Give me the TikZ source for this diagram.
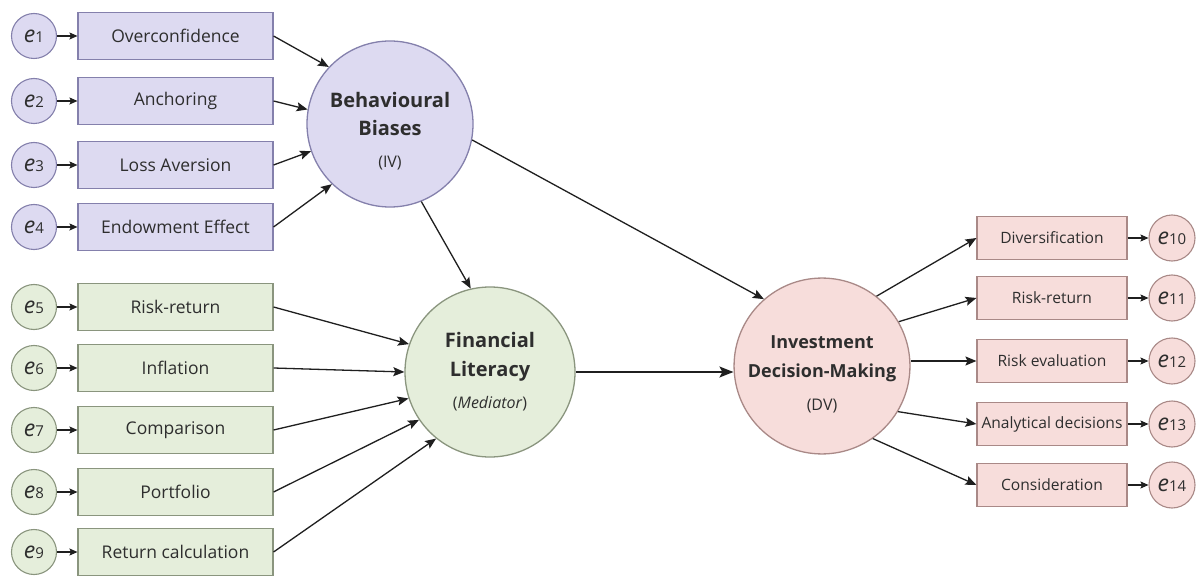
\documentclass[tikz,border=0pt]{standalone}
\usepackage{fontspec}
\setmainfont{Open Sans}
\usetikzlibrary{arrows.meta}
\definecolor{pfill}{HTML}{DDDAF1}
\definecolor{pdraw}{HTML}{8480AC}
\definecolor{gfill}{HTML}{E5EEDB}
\definecolor{gdraw}{HTML}{8A957E}
\definecolor{rfill}{HTML}{F7DDDB}
\definecolor{rdraw}{HTML}{A98987}
\definecolor{txt}{HTML}{2E2E2E}
\definecolor{ln}{HTML}{1F1F1F}
\newcommand\errlab[1]{{\fontsize{23}{23}\selectfont\itshape e}{\fontsize{15}{15}\selectfont #1}}
\begin{document}
\begin{tikzpicture}[x=1pt,y=-1pt,
  lbox/.style={draw, line width=1.1pt, minimum width=195pt, minimum height=47pt, inner sep=0pt, font=\fontsize{17.5}{19}\selectfont, text=txt},
  rbox/.style={draw, line width=1.1pt, minimum width=150pt, minimum height=43pt, inner sep=0pt, font=\fontsize{15.6}{17}\selectfont, text=txt},
  errc/.style={draw, circle, line width=1.1pt, minimum size=45pt, inner sep=0pt, text=txt},
  latent/.style={draw, circle, line width=1.3pt, inner sep=0pt, align=center, text=txt},
  pur/.style={fill=pfill, draw=pdraw},
  grn/.style={fill=gfill, draw=gdraw},
  red/.style={fill=rfill, draw=rdraw},
  conn/.style={draw=ln, line width=1.3pt, -{Stealth[length=11pt,width=9pt,inset=2pt]}},
  econn/.style={draw=ln, line width=1.1pt, -{Stealth[length=8pt,width=7pt,inset=1.5pt]}},
  bigconn/.style={draw=ln, line width=1.6pt, -{Stealth[length=14pt,width=11pt,inset=3pt]}}
]
\fill[white] (0,0) rectangle (1204,577);
\useasboundingbox (0,0) rectangle (1204,577);

% latent constructs
\node[latent, pur, minimum size=166pt, font=\fontsize{20}{28}\selectfont\bfseries] (BB) at (390,124)
  {\rule{0pt}{30pt}Behavioural\\ Biases\\[4pt] \fontsize{16}{18}\selectfont\mdseries (IV)};
\node[latent, grn, minimum size=170pt, font=\fontsize{20}{29}\selectfont\bfseries] (FL) at (490,372)
  {Financial\\ Literacy\\[3pt] \fontsize{16}{18}\selectfont\mdseries (\textit{Mediator})};
\node[latent, red, minimum size=164pt, font=\fontsize{18}{29}\selectfont\bfseries] (IDM) at (822,366)
  {\rule{0pt}{30pt}Investment\\ Decision-Making\\[4pt] \fontsize{16}{18}\selectfont\mdseries (DV)};

% behavioural bias indicators
\node[lbox, pur] (b1) at (175.5,36) {Overconfidence};
\node[lbox, pur] (b2) at (175.5,101) {Anchoring};
\node[lbox, pur] (b3) at (175.5,165) {Loss Aversion};
\node[lbox, pur] (b4) at (175.5,227) {Endowment Effect};
\node[errc, pur] (e1) at (34,36) {\errlab{1}};
\node[errc, pur] (e2) at (34,101) {\errlab{2}};
\node[errc, pur] (e3) at (34,165) {\errlab{3}};
\node[errc, pur] (e4) at (34,227) {\errlab{4}};

% financial literacy indicators
\node[lbox, grn] (f1) at (175.5,307) {Risk-return};
\node[lbox, grn] (f2) at (175.5,368) {Inflation};
\node[lbox, grn] (f3) at (175.5,430) {Comparison};
\node[lbox, grn] (f4) at (175.5,492) {Portfolio};
\node[lbox, grn] (f5) at (175.5,552) {Return calculation};
\node[errc, grn] (e5) at (34,307) {\errlab{5}};
\node[errc, grn] (e6) at (34,368) {\errlab{6}};
\node[errc, grn] (e7) at (34,430) {\errlab{7}};
\node[errc, grn] (e8) at (34,492) {\errlab{8}};
\node[errc, grn] (e9) at (34,552) {\errlab{9}};

% decision making indicators
\node[rbox, red] (d1) at (1052,238) {Diversification};
\node[rbox, red] (d2) at (1052,298) {Risk-return};
\node[rbox, red] (d3) at (1052,361) {Risk evaluation};
\node[rbox, red] (d4) at (1052,424) {Analytical decisions};
\node[rbox, red] (d5) at (1052,485) {Consideration};
\node[errc, red, minimum size=46pt] (e10) at (1172,238) {\errlab{10}};
\node[errc, red, minimum size=46pt] (e11) at (1172,298) {\errlab{11}};
\node[errc, red, minimum size=46pt] (e12) at (1172,361) {\errlab{12}};
\node[errc, red, minimum size=46pt] (e13) at (1172,424) {\errlab{13}};
\node[errc, red, minimum size=46pt] (e14) at (1172,485) {\errlab{14}};

% error arrows
\foreach \e/\b in {e1/b1,e2/b2,e3/b3,e4/b4,e5/f1,e6/f2,e7/f3,e8/f4,e9/f5}
  \draw[econn] (\e) -- (\b);
\foreach \b/\e in {d1/e10,d2/e11,d3/e12,d4/e13,d5/e14}
  \draw[econn] (\b) -- (\e);

% indicator -> BB
\draw[conn] (b1.east) -- (BB.137);
\draw[conn] (b2.east) -- (BB.170);
\draw[conn] (b3.east) -- (BB.199);
\draw[conn] (b4.east) -- (BB.226);

% indicator -> FL
\draw[conn] (f1.east) -- (FL.161);
\draw[conn] (f2.east) -- (FL.180);
\draw[conn] (f3.east) -- (FL.198);
\draw[conn] (f4.east) -- (FL.214);
\draw[conn] (f5.east) -- (FL.231);

% structural paths
\draw[conn] (BB.-68) -- (FL.103);
\draw[conn] (BB.-11) -- (IDM.131);
\draw[bigconn] (FL.east) -- (IDM.west |- FL.east);

% IDM -> indicators
\draw[conn] (IDM.52) -- (d1.west);
\draw[conn] (IDM.30) -- (d2.west);
\draw[conn] (IDM.east |- d3.west) -- (d3.west);
\draw[conn] (IDM.-31) -- (d4.west);
\draw[conn] (IDM.-55) -- (d5.west);
\end{tikzpicture}
\end{document}
